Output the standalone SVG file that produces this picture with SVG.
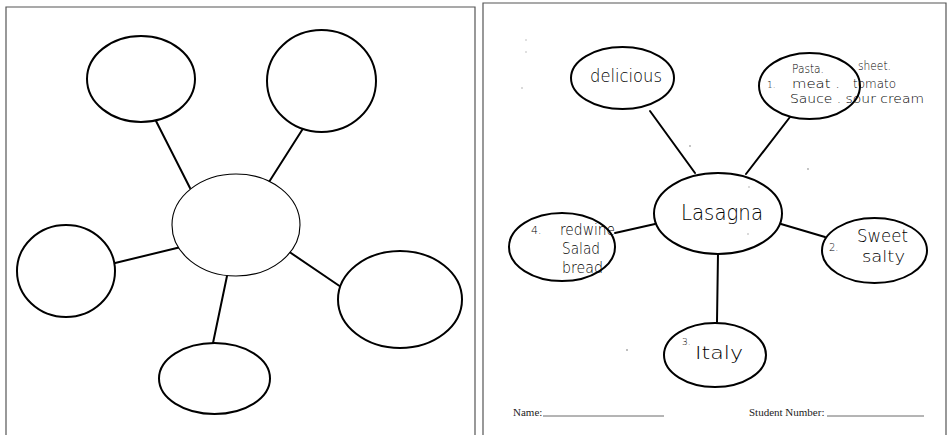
<svg xmlns="http://www.w3.org/2000/svg" width="948" height="435" viewBox="0 0 948 435">
<style>
.frame{fill:none;stroke:#555;stroke-width:1.2}
.b{fill:#fff;stroke:#000;stroke-width:2}
.bt{fill:#fff;stroke:#000;stroke-width:1.1}
.c line{stroke:#000;stroke-width:2;stroke-linecap:round}
.h{font-family:"DejaVu Sans","Liberation Sans",sans-serif;font-weight:200;fill:#000}
.s{font-family:"Liberation Serif",serif;font-size:11px;fill:#222}
.u{stroke:#444;stroke-width:0.8}
.dot{fill:#aaa}
</style>
<rect width="948" height="435" fill="#fff"/>
<g id="frames">
<path class="frame" d="M6 440V7H475V440"/>
<path class="frame" d="M483 440V3H946V440"/>
</g>
<g id="connectors" class="c">
<line x1="156" y1="121" x2="190" y2="188"/>
<line x1="304" y1="127" x2="269" y2="182"/>
<line x1="111" y1="264" x2="181" y2="247"/>
<line x1="288" y1="251" x2="341" y2="287"/>
<line x1="227" y1="276" x2="213" y2="343"/>
<line x1="650" y1="111" x2="695" y2="173"/>
<line x1="790" y1="117" x2="746" y2="174"/>
<line x1="615" y1="233" x2="655" y2="224"/>
<line x1="781" y1="224" x2="825" y2="237"/>
<line x1="718" y1="253" x2="717" y2="322"/>
</g>
<g id="l-center"><ellipse class="bt" cx="236" cy="225" rx="64" ry="51"/></g>
<g id="l-topleft"><ellipse class="b" cx="141" cy="79" rx="54" ry="43"/></g>
<g id="l-topright"><ellipse class="b" cx="321.5" cy="81" rx="54.5" ry="51"/></g>
<g id="l-left"><ellipse class="b" cx="66" cy="271" rx="49" ry="46"/></g>
<g id="l-right"><ellipse class="b" cx="400" cy="299.5" rx="62" ry="48.5"/></g>
<g id="l-bottom"><ellipse class="b" cx="214.5" cy="378.5" rx="55.5" ry="35.5"/></g>

<g id="r-center"><ellipse class="b" cx="718" cy="213.5" rx="64" ry="40.5"/>
<text class="h" x="681" y="220" font-size="21" textLength="82" lengthAdjust="spacingAndGlyphs">Lasagna</text></g>
<g id="r-delicious"><ellipse class="b" cx="622.5" cy="78" rx="51.5" ry="31"/>
<text class="h" x="590" y="82" font-size="17" textLength="72" lengthAdjust="spacingAndGlyphs">delicious</text></g>
<g id="r-ingredients"><ellipse class="b" cx="809.5" cy="86" rx="50.5" ry="33"/>
<text class="h" x="792" y="73" font-size="12.5" textLength="32" lengthAdjust="spacingAndGlyphs">Pasta.</text>
<text class="h" x="858" y="70" font-size="12" textLength="33" lengthAdjust="spacingAndGlyphs">sheet.</text>
<text class="h" x="767" y="88" font-size="9">1.</text>
<text class="h" x="792" y="88" font-size="12.5" textLength="48" lengthAdjust="spacingAndGlyphs">meat .</text>
<text class="h" x="853" y="88" font-size="12" textLength="43" lengthAdjust="spacingAndGlyphs">tomato</text>
<text class="h" x="790" y="103" font-size="12.5" textLength="134" lengthAdjust="spacingAndGlyphs">Sauce . sour cream</text></g>
<g id="r-drinks"><ellipse class="b" cx="562" cy="247" rx="53" ry="34"/>
<text class="h" x="531" y="234" font-size="11">4.</text>
<text class="h" x="560" y="235" font-size="15" textLength="55" lengthAdjust="spacingAndGlyphs">redwine</text>
<text class="h" x="562" y="254" font-size="15" textLength="38" lengthAdjust="spacingAndGlyphs">Salad</text>
<text class="h" x="562" y="273" font-size="15" textLength="41" lengthAdjust="spacingAndGlyphs">bread</text></g>
<g id="r-taste"><ellipse class="b" cx="874.5" cy="250.5" rx="52.5" ry="32.5"/>
<text class="h" x="829" y="251" font-size="10">2.</text>
<text class="h" x="857" y="242" font-size="17" textLength="51" lengthAdjust="spacingAndGlyphs">Sweet</text>
<text class="h" x="862" y="262" font-size="16" textLength="43" lengthAdjust="spacingAndGlyphs">salty</text></g>
<g id="r-origin"><ellipse class="b" cx="715" cy="355" rx="51" ry="32"/>
<text class="h" x="682" y="345" font-size="9">3.</text>
<text class="h" x="695" y="359" font-size="18" textLength="48" lengthAdjust="spacingAndGlyphs">Italy</text></g>

<g id="footer">
<text class="s" x="513" y="416">Name:</text>
<line class="u" x1="543" y1="416" x2="664" y2="416"/>
<text class="s" x="749" y="416">Student Number:</text>
<line class="u" x1="827" y1="416" x2="924" y2="416"/>
</g>
<g id="specks">
<circle class="dot" cx="690" cy="146" r="0.9"/>
<circle class="dot" cx="808" cy="169" r="0.9"/>
<circle class="dot" cx="749" cy="187" r="0.8"/>
<circle class="dot" cx="748" cy="234" r="0.8"/>
<circle class="dot" cx="627" cy="350" r="1"/>
<circle class="dot" cx="522" cy="88" r="0.8"/>
<circle class="dot" cx="526" cy="40" r="0.7"/>
<circle class="dot" cx="526" cy="52" r="0.7"/>
</g>
</svg>
